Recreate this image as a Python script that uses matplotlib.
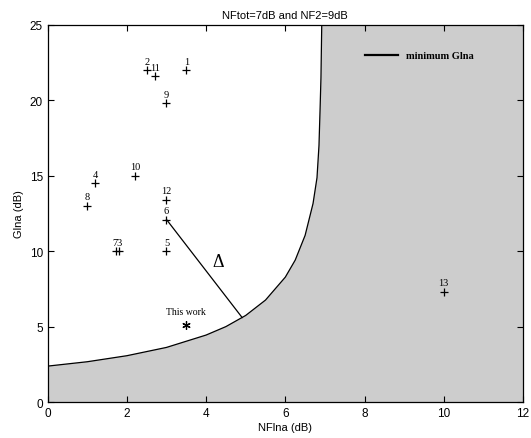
import matplotlib
matplotlib.use("Agg")
import matplotlib.pyplot as plt

# minimum Glna curve (NFtot=7dB, NF2=9dB)
curve_nf = [0.0, 1.0, 2.0, 3.0, 4.0, 4.5, 5.0, 5.5, 6.0, 6.25, 6.5, 6.7, 6.8, 6.85, 6.88, 6.9, 6.92]
curve_g = [2.38, 2.67, 3.07, 3.62, 4.44, 5.00, 5.74, 6.76, 8.28, 9.41, 11.05, 13.16, 14.87, 17.0, 19.6, 21.5, 25.0]

# published LNAs
ref_labels = ["1", "2", "11", "9", "10", "4", "8", "12", "6", "5", "13"]
ref_nf = [3.5, 2.5, 2.7, 3.0, 2.2, 1.2, 1.0, 3.0, 3.0, 3.0, 10.0]
ref_g = [22.0, 22.0, 21.6, 19.8, 15.0, 14.5, 13.0, 13.4, 12.1, 10.0, 7.3]

# refs 7 and 3 overlap
pair_nf = [1.72, 1.80]
pair_g = [10.0, 10.0]

work_nf = 3.5
work_g = 5.1

# distance marker from ref 6 to the curve
delta_nf = [3.0, 4.91]
delta_g = [12.1, 5.6]

fig = plt.figure(figsize=(5.31, 4.39), dpi=100)
ax = fig.add_axes([0.0898, 0.082, 0.895, 0.8588])

ax.fill(curve_nf + [12, 12, 0], curve_g + [25, 0, 0], color="#cdcdcd", lw=0)
ax.plot(curve_nf, curve_g, color="black", lw=0.9)

ax.plot(ref_nf, ref_g, "k+", ms=6, mew=0.9, ls="none")
ax.plot(pair_nf, pair_g, "k+", ms=6, mew=0.9, ls="none")
ax.plot([work_nf], [work_g], "k", marker=(6, 2, 0), ms=6, mew=0.9, ls="none")
ax.plot(delta_nf, delta_g, color="black", lw=0.9)

serif = "Liberation Serif"
for lab, x, y in zip(ref_labels, ref_nf, ref_g):
    ax.text(x, y + 0.3, lab, ha="center", va="bottom", fontsize=7.5, family=serif)
ax.text(sum(pair_nf) / 2, 10.3, "73", ha="center", va="bottom", fontsize=7.5, family=serif)
ax.text(work_nf, work_g + 0.6, "This work", ha="center", va="bottom", fontsize=7, family=serif)
ax.text(4.3, 9.3, "Δ", ha="center", va="center", fontsize=13, family=serif)

# legend
ax.plot([8.0, 8.85], [23.0, 23.0], color="black", lw=1.6)
ax.text(9.05, 23.0, "minimum Glna", ha="left", va="center", fontsize=7.5,
        family=serif, fontweight="bold")

ax.set_xlim(0, 12)
ax.set_ylim(0, 25)
ax.set_xticks([0, 2, 4, 6, 8, 10, 12])
ax.set_yticks([0, 5, 10, 15, 20, 25])
ax.tick_params(direction="in", top=True, right=True, labelsize=8.5, length=4)
for lab in ax.get_xticklabels() + ax.get_yticklabels():
    lab.set_family("Liberation Sans")
for sp in ax.spines.values():
    sp.set_linewidth(0.9)

ax.set_xlabel("NFlna (dB)", fontsize=8, family="Liberation Sans", labelpad=2)
ax.set_ylabel("Glna (dB)", fontsize=8, family="Liberation Sans", labelpad=4)
ax.set_title("NFtot=7dB and NF2=9dB", fontsize=8, family="Liberation Sans", pad=5)

fig.savefig("out.png", dpi=100)
